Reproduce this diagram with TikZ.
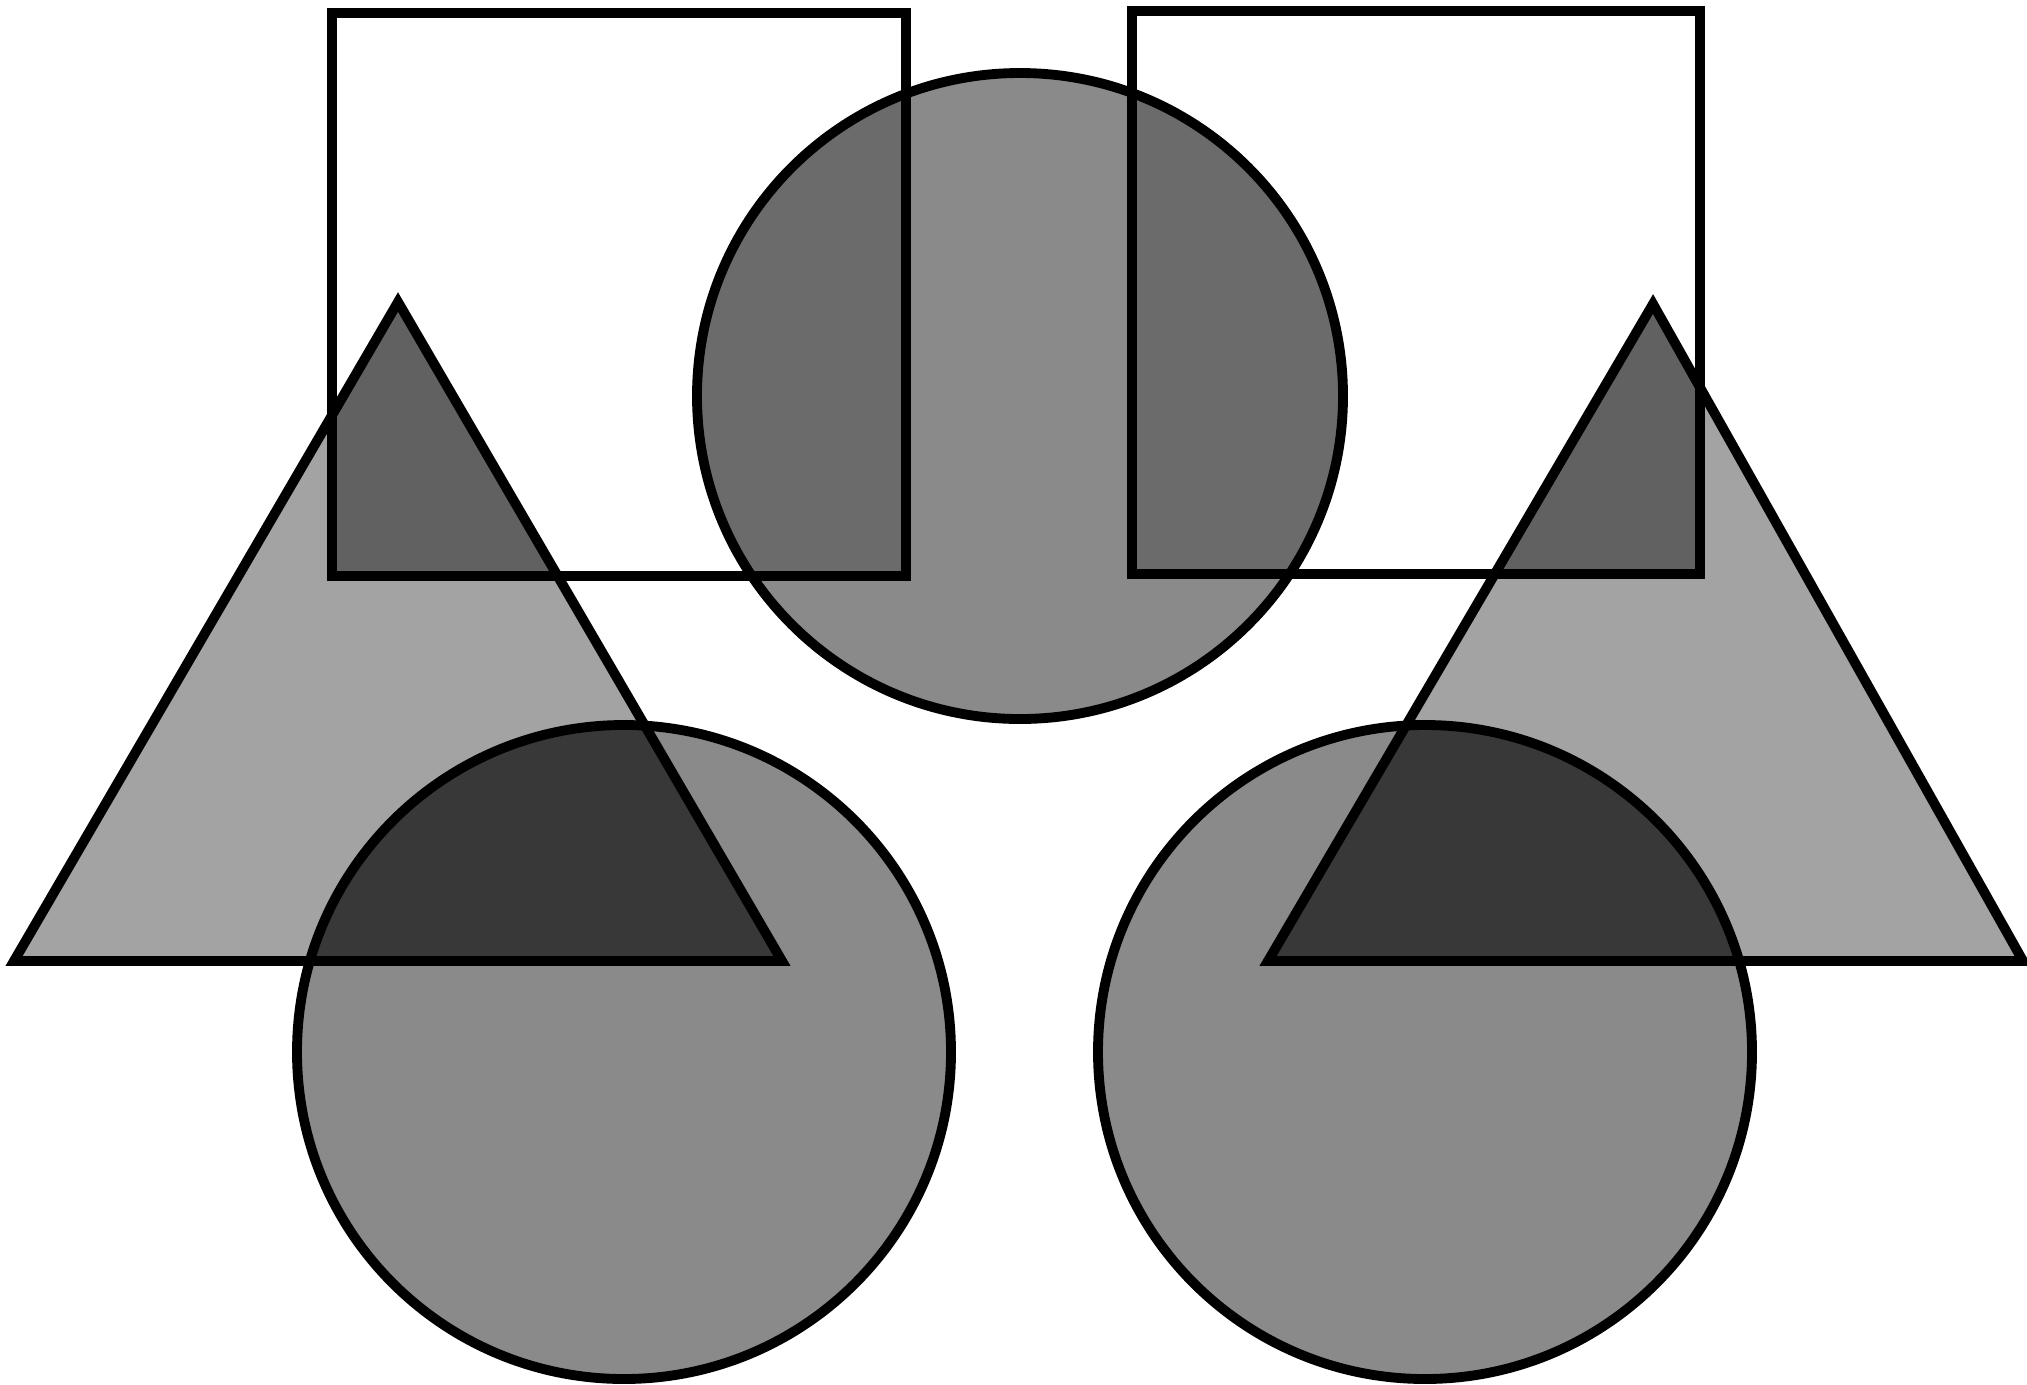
\documentclass[tikz,border=0pt]{standalone}
\usepackage{xcolor}
\definecolor{trigray}{gray}{0.64}
\definecolor{circgray}{gray}{0.54}
\definecolor{sqcirc}{gray}{0.42}
\definecolor{sqtri}{gray}{0.38}
\definecolor{tricirc}{gray}{0.22}
% outlines of the shapes, in pixel units
\newcommand{\sqleft}{(332,13) rectangle (906,576)}
\newcommand{\sqright}{(1132,11) rectangle (1700,574)}
\newcommand{\trileft}{(14,961) -- (398,302) -- (782,961) -- cycle}
\newcommand{\triright}{(1268,961) -- (1653,304) -- (2023,961) -- cycle}
\newcommand{\circtop}{(1020,396) circle (323)}
\newcommand{\circleft}{(624,1052) circle (327)}
\newcommand{\circright}{(1425,1052) circle (327)}
\begin{document}
\begin{tikzpicture}[
x=0.01cm,
y=-0.01cm,
outline/.style={draw=black,line width=2.8pt,line join=miter},
]
\useasboundingbox (0,0) rectangle (2027,1384);
% base fills
\fill[trigray] \trileft;
\fill[trigray] \triright;
\fill[circgray] \circtop;
\fill[circgray] \circleft;
\fill[circgray] \circright;
% overlaps
\begin{scope}
\clip \sqleft;
\fill[sqcirc] \circtop;
\fill[sqtri] \trileft;
\end{scope}
\begin{scope}
\clip \sqright;
\fill[sqcirc] \circtop;
\fill[sqtri] \triright;
\end{scope}
\begin{scope}
\clip \circleft;
\fill[tricirc] \trileft;
\end{scope}
\begin{scope}
\clip \circright;
\fill[tricirc] \triright;
\end{scope}
% outlines
\draw[outline] \trileft;
\draw[outline] \triright;
\draw[outline] \circtop;
\draw[outline] \circleft;
\draw[outline] \circright;
\draw[outline] \sqleft;
\draw[outline] \sqright;
\end{tikzpicture}
\end{document}
